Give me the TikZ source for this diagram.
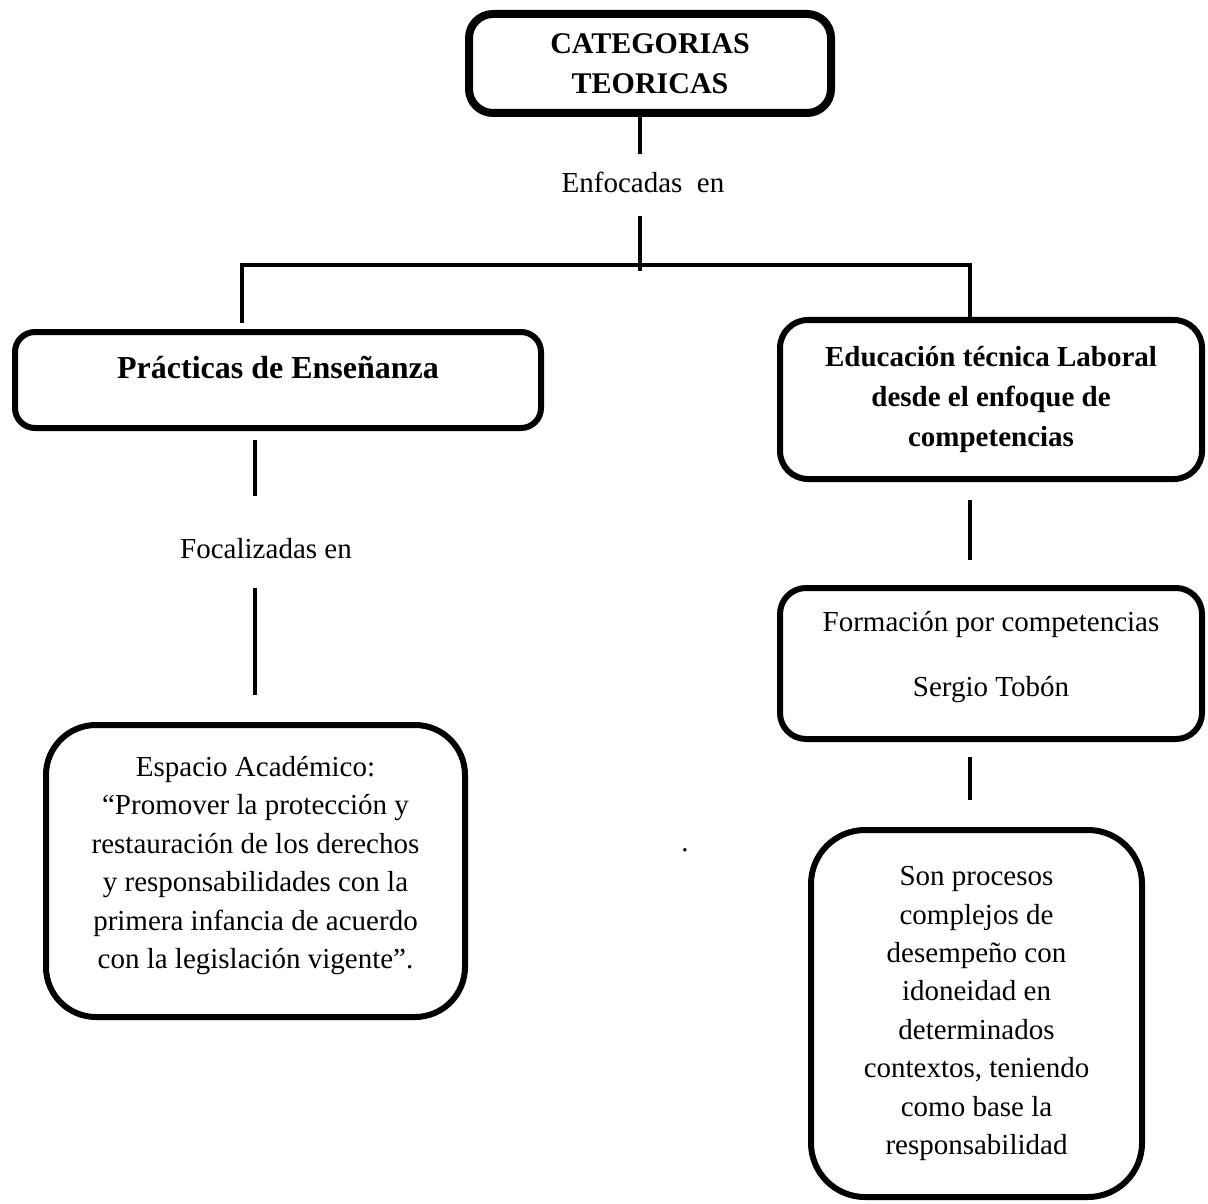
\documentclass[tikz,border=0pt]{standalone}
\usepackage{fontspec}
\setmainfont{Liberation Serif}
\tikzset{
  txt/.style={font=\fontsize{14.5}{19.2}\selectfont},
  box/.style={draw, line width=3pt, rounded corners=#1, align=center, inner sep=0pt, txt},
  box/.default=10pt,
  link/.style={draw, line width=2pt},
  tag/.style={txt, inner sep=0pt, anchor=base},
}
\begin{document}
\begin{tikzpicture}[x=0.5pt, y=-0.5pt]
  \useasboundingbox (0,0) rectangle (1208,1203);
  % boxes
  \node[box=12pt, line width=4pt, minimum width=181pt, minimum height=49.5pt,
        font=\fontsize{15}{20}\selectfont\bfseries] (cat) at (650,63.5) {CATEGORIAS\\TEORICAS};
  \node[box=10pt, minimum width=263pt, minimum height=48pt, text depth=13pt,
        font=\fontsize{16}{19}\selectfont\bfseries] (prac) at (278,380) {Prácticas de Enseñanza};
  \node[box=14pt, minimum width=211pt, minimum height=79.5pt,
        font=\fontsize{14.5}{20}\selectfont\bfseries] (edu) at (991,399.5)
        {Educación técnica Laboral\\desde el enfoque de\\competencias};
  \node[box=13pt, minimum width=211pt, minimum height=75.5pt, text depth=9.5pt] (form) at (991,663.5)
        {Formación por competencias\\[13.3pt]Sergio Tobón};
  \node[box=25pt, minimum width=209.5pt, minimum height=146pt, text depth=8.5pt] (esp) at (255.5,871)
        {Espacio Académico:\\“Promover la protección y\\restauración de los derechos\\y responsabilidades con la\\primera infancia de acuerdo\\con la legislación vigente”.};
  \node[box=27pt, minimum width=165.5pt, minimum height=183.5pt] (son) at (976.5,1013.5)
        {Son procesos\\complejos de\\desempeño con\\idoneidad en\\determinados\\contextos, teniendo\\como base la\\responsabilidad};
  % connector labels
  \node[tag] (enf) at (643,193) {Enfocadas\ \ en};
  \node[tag] (foc) at (266,558) {Focalizadas en};
  \node[tag] (dot) at (685,851) {.};
  % junction points
  \coordinate (hub) at (640,271);
  \coordinate (jl) at (242,265);
  \coordinate (jr) at (970,265);
  \coordinate (lx) at (255,0);
  % connectors
  \draw[link, shorten >=9pt] (cat.south -| hub) -- (enf.north -| hub);
  \draw[link, shorten <=11pt] (enf.south -| hub) -- (hub);
  \draw[link, shorten <=3pt] (jl |- prac.north) -- (jl) -- (jr) -- (jr |- edu.north);
  \draw[link, shorten <=4.5pt, shorten >=20.5pt] (prac.south -| lx) -- (foc.north -| lx);
  \draw[link, shorten <=14.5pt, shorten >=13.5pt] (foc.south -| lx) -- (esp.north -| lx);
  \draw[link, shorten <=9pt, shorten >=12.5pt] (edu.south -| jr) -- (form.north -| jr);
  \draw[link, shorten <=7.5pt, shorten >=13.5pt] (form.south -| jr) -- (son.north -| jr);
\end{tikzpicture}
\end{document}
